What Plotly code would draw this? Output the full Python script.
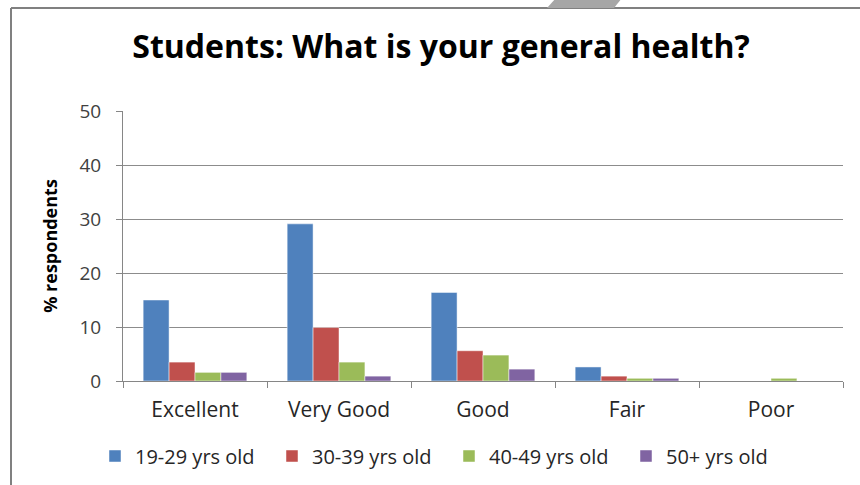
import plotly.graph_objects as go

categories = ["Excellent", "Very Good", "Good", "Fair", "Poor"]
series_names = ["19-29 yrs old", "30-39 yrs old", "40-49 yrs old", "50+ yrs old"]
age_19_29 = [15.0, 29.1, 16.4, 2.6, 0.0]
age_30_39 = [3.5, 9.9, 5.6, 0.9, 0.0]
age_40_49 = [1.6, 3.5, 4.8, 0.5, 0.5]
age_50_plus = [1.6, 0.9, 2.2, 0.5, 0.0]
colors = ["#4F81BD", "#C0504D", "#9BBB59", "#8064A2"]
y_ticks = [0, 10, 20, 30, 40, 50]

FONT = "Open Sans"
W, H = 860, 485
L, R, T, B = 123, 17, 111, 104
pw, ph = W - L - R, H - T - B

def px(x):
    return (x - L) / pw

def py(y):
    return (H - B - y) / ph

fig = go.Figure()
for name, vals, c in zip(series_names, [age_19_29, age_30_39, age_40_49, age_50_plus], colors):
    fig.add_trace(go.Bar(x=categories, y=vals, name=name,
                         marker=dict(color=c, line=dict(color="rgba(255,255,255,0.6)", width=0.8))))

fig.update_layout(
    width=W, height=H,
    margin=dict(l=L, r=R, t=T, b=B, autoexpand=False),
    paper_bgcolor="white", plot_bgcolor="white",
    barmode="group", bargap=0.28, bargroupgap=0,
    font=dict(family=FONT, color="#404040", size=16),
    title=dict(text="<b>Students: What is your general health?</b>",
               x=441 / W, xanchor="center", xref="container",
               y=1 - 47 / H, yanchor="middle", yref="container",
               font=dict(family=FONT, size=32, color="black")),
    showlegend=True,
    legend=dict(orientation="h", x=95 / W, xanchor="left", y=1 - 456 / H, yanchor="middle",
                xref="container", yref="container",
                font=dict(family=FONT, size=20, color="#262626"),
                entrywidth=132, entrywidthmode="pixels", itemwidth=30,
                traceorder="normal"),
    xaxis=dict(type="category", showgrid=False, showline=True, linecolor="#868686",
               linewidth=1, ticks="outside", ticklen=6, tickcolor="#868686",
               tickson="boundaries", ticklabelstandoff=10,
               tickfont=dict(family=FONT, size=21, color="#262626"),
               automargin=False, fixedrange=True),
    yaxis=dict(range=[0, 50], tickvals=y_ticks, showgrid=True, gridcolor="#8C8C8C",
               gridwidth=1, showline=True, linecolor="#868686", linewidth=1,
               ticks="outside", ticklen=6, tickcolor="#868686", zeroline=False,
               ticklabelstandoff=11,
               tickfont=dict(family=FONT, size=19, color="#404040"),
               title=dict(text="<b>% respondents</b>", standoff=17,
                          font=dict(family=FONT, size=18, color="black")),
               automargin=False, fixedrange=True),
)

# outer chart border (left and top edges)
fig.add_shape(type="line", xref="paper", yref="paper", x0=px(11), x1=px(11),
              y0=py(8), y1=py(490), line=dict(color="#808080", width=2))
fig.add_shape(type="line", xref="paper", yref="paper", x0=px(11), x1=px(865),
              y0=py(8), y1=py(8), line=dict(color="#808080", width=2))
# gray parallelogram at top edge
fig.add_shape(type="path", xref="paper", yref="paper",
              path=f"M {px(547)},{py(8)} L {px(556)},{py(-2)} L {px(622)},{py(-2)} L {px(614)},{py(8)} Z",
              fillcolor="#A6A6A6", line=dict(width=0))

fig.write_html("out.html", config={"displayModeBar": False},
               post_script="document.body.style.margin='0';")
